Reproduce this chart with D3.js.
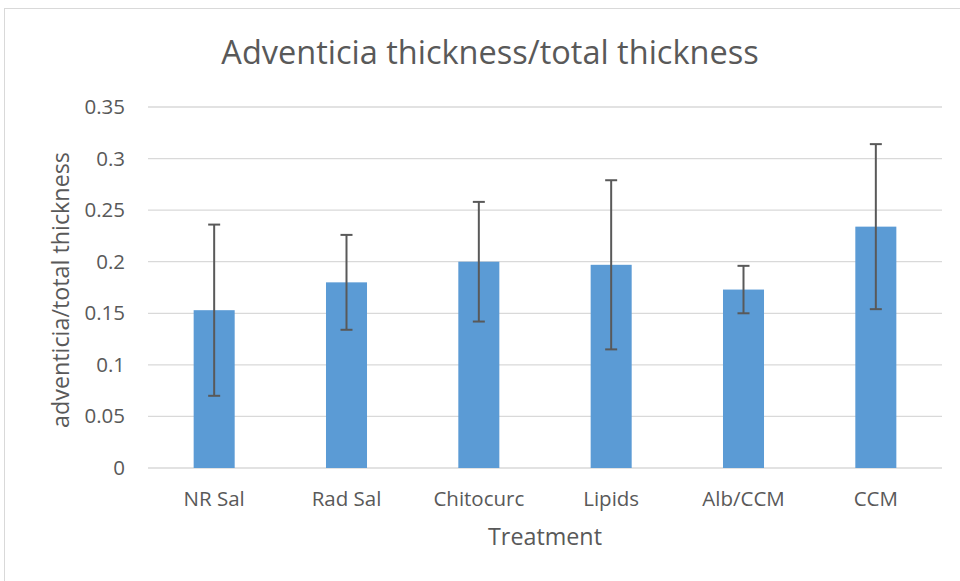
<!DOCTYPE html>
<html>
<head>
<meta charset="utf-8">
<script src="https://cdn.jsdelivr.net/npm/d3@7"></script>
<style>
  body { margin: 0; background: #fff; }
  text { font-family: "Open Sans", "Liberation Sans", sans-serif; fill: #595959; }
</style>
</head>
<body>
<div id="chart"></div>
<script>
const categories = ['NR Sal', 'Rad Sal', 'Chitocurc', 'Lipids', 'Alb/CCM', 'CCM'];
const means = [0.153, 0.180, 0.200, 0.197, 0.173, 0.234];
const errors = [0.083, 0.046, 0.058, 0.082, 0.023, 0.080];
const yTicks = [0, 0.05, 0.1, 0.15, 0.2, 0.25, 0.3, 0.35];

const svgWidth = 960;
const svgHeight = 581;
const margin = {top: 107, right: 18, bottom: 113, left: 148};
const width = svgWidth - margin.left - margin.right;
const height = svgHeight - margin.top - margin.bottom;

const svg = d3.select('#chart')
            .append('svg')
            .attr('width', svgWidth)
            .attr('height', svgHeight);

// chart frame
svg.append('rect')
    .attr('x', 4.5).attr('y', 8.5)
    .attr('width', 980).attr('height', 600)
    .attr('fill', 'none')
    .attr('stroke', '#d9d9d9');

const g = svg.append('g')
            .attr('transform', `translate(${margin.left}, ${margin.top})`);

const x = d3.scaleBand()
            .domain(categories)
            .range([0, width])
            .paddingInner(0.69)
            .paddingOuter(0.345);
const y = d3.scaleLinear()
            .domain([0, 0.35])
            .range([height, 0]);

// gridlines
g.selectAll('.grid').data(yTicks).enter().append('line')
    .attr('x1', 0).attr('x2', width)
    .attr('y1', d => y(d)).attr('y2', d => y(d))
    .attr('stroke', '#d9d9d9')
    .attr('stroke-width', 1.3);

const leftAxis = d3.axisLeft(y).tickValues(yTicks).tickSize(0).tickPadding(23)
                    .tickFormat(d => d3.format('')(+d.toFixed(2)));
g.append('g').call(leftAxis)
    .call(a => a.select('.domain').remove())
    .selectAll('text')
    .attr('font-size', 20.5)
    .attr('font-family', '"Open Sans", sans-serif')
    .attr('fill', '#595959');

const bottomAxis = d3.axisBottom(x).tickSize(0).tickPadding(23);
g.append('g').attr('transform', `translate(0,${height})`).call(bottomAxis)
    .call(a => a.select('.domain').remove())
    .selectAll('text')
    .attr('font-size', 20.5)
    .attr('font-family', '"Open Sans", sans-serif')
    .attr('fill', '#595959');

// bars
g.selectAll('.bar').data(means).enter().append('rect')
    .attr('x', (d, i) => x(categories[i]))
    .attr('y', d => y(d))
    .attr('width', x.bandwidth())
    .attr('height', d => height - y(d))
    .attr('fill', '#5b9bd5');

// error bars
const cx = i => x(categories[i]) + x.bandwidth() / 2;
const eb = g.selectAll('.err').data(means).enter().append('g');
eb.append('line')
    .attr('x1', (d, i) => cx(i)).attr('x2', (d, i) => cx(i))
    .attr('y1', (d, i) => y(d + errors[i])).attr('y2', (d, i) => y(d - errors[i]));
eb.append('line')
    .attr('x1', (d, i) => cx(i) - 6).attr('x2', (d, i) => cx(i) + 6)
    .attr('y1', (d, i) => y(d + errors[i])).attr('y2', (d, i) => y(d + errors[i]));
eb.append('line')
    .attr('x1', (d, i) => cx(i) - 6).attr('x2', (d, i) => cx(i) + 6)
    .attr('y1', (d, i) => y(d - errors[i])).attr('y2', (d, i) => y(d - errors[i]));
eb.selectAll('line').attr('stroke', '#595959').attr('stroke-width', 2);

// titles
svg.append('text')
    .attr('x', 490).attr('y', 64)
    .attr('text-anchor', 'middle')
    .attr('font-size', 32.5)
    .text('Adventicia thickness/total thickness');

svg.append('text')
    .attr('x', margin.left + width / 2).attr('y', 545)
    .attr('text-anchor', 'middle')
    .attr('font-size', 23.3)
    .text('Treatment');

svg.append('text')
    .attr('transform', 'rotate(-90)')
    .attr('x', -290).attr('y', 69)
    .attr('text-anchor', 'middle')
    .attr('font-size', 23.3)
    .text('adventicia/total thickness');
</script>
</body>
</html>
